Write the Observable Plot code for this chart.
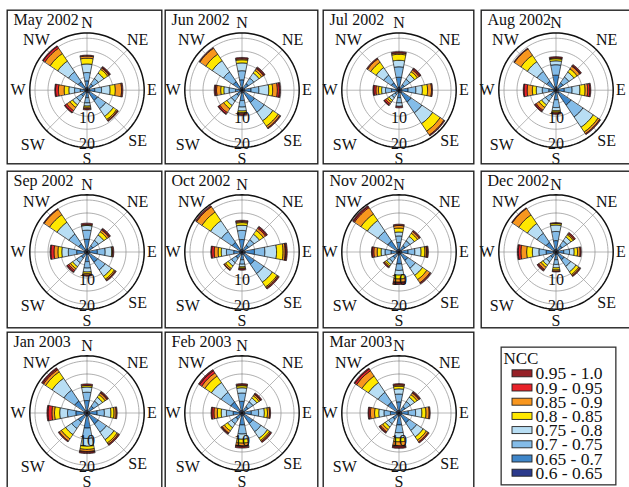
<!DOCTYPE html>
<html><head><meta charset="utf-8">
<script src="https://cdn.jsdelivr.net/npm/d3@7"></script>
<script src="https://cdn.jsdelivr.net/npm/@observablehq/plot@0.6"></script>
<style>
html,body{margin:0;padding:0;background:#fff;}
body{width:629px;height:487px;overflow:hidden;position:relative;font-family:"Liberation Serif",serif;}
.panel{position:absolute;}
.panel svg{display:block;overflow:visible;max-width:none !important;}
</style></head><body>
<script>
// ---------- data ----------
const months = ["May 2002","Jun 2002","Jul 2002","Aug 2002","Sep 2002","Oct 2002","Nov 2002","Dec 2002","Jan 2003","Feb 2003","Mar 2003"];
const directions = ["N","NE","E","SE","S","SW","W","NW"];
const directionAngles = [0,45,90,135,180,225,270,315];
const classes = ["0.6 - 0.65","0.65 - 0.7","0.7 - 0.75","0.75 - 0.8","0.8 - 0.85","0.85 - 0.9","0.9 - 0.95","0.95 - 1.0"];
const classColors = ["#2b3a8c","#3f86c9","#84bce8","#b8def4","#ffe800","#f8961e","#e8222a","#962128"];
const legendOrder = ["0.95 - 1.0","0.9 - 0.95","0.85 - 0.9","0.8 - 0.85","0.75 - 0.8","0.7 - 0.75","0.65 - 0.7","0.6 - 0.65"];
const legendTitle = "NCC";
const ringValues = [5,10,15,20];
const outerRadius = 22;
const radialLabels = ["10","20"];
const radialLabelValues = [10,20];

// frequency (%) per direction (N..NW), per NCC class (inner 0.6-0.65 -> outer 0.95-1.0)
const may2002 = [[1.0,2.6,3.2,3.3,2.2,0.8,0,0.4],[0.8,2.0,2.5,2.5,1.8,0.6,0.3,0.4],[1.0,2.0,2.6,3.3,2.0,2.4,0,0.5],[1.3,3.5,3.8,3.5,1.5,0.5,0,0.4],[0.9,2.0,2.0,1.2,0.5,0.5,0,0.5],[0.9,1.8,2.2,1.8,1.2,1.5,0.8,0.3],[0.8,1.8,2.2,2.2,1.8,2.2,1.1,0.3],[1.0,3.0,4.5,5.0,3.5,2.5,0.8,0.3]];
const jun2002 = [[1.0,3.0,3.5,3.0,1.2,0.4,0,0.5],[0.8,2.2,2.5,2.4,1.2,0.8,0.4,0.4],[1.0,2.5,3.0,3.8,1.5,1.8,0.8,0.4],[1.2,4.5,4.5,4.0,2.5,0.8,0,0.4],[1.0,3.0,2.5,1.5,0.6,0.5,0,0.6],[0.8,1.7,2.5,2.0,1.5,1.8,0.6,0.3],[0.8,1.7,2.5,2.0,1.2,1.6,0.5,0.4],[1.0,3.0,4.5,5.2,3.0,2.8,0,0.3]];
const jul2002 = [[1.2,3.8,4.0,2.5,2.3,0.5,0,0.5],[0.8,1.7,2.5,2.2,1.3,0.8,0.5,0.4],[1.0,2.5,3.0,2.5,2.0,1.5,0,0.4],[1.3,4.2,5.0,5.0,3.5,1.8,0,0.4],[0.9,2.0,2.0,1.3,0,0,0,0.6],[0.7,1.2,1.5,1.2,0.8,0.8,0.6,0.3],[0.9,2.0,2.3,1.5,1.2,1.0,0.8,0.3],[1.0,2.5,3.5,3.5,2.5,1.5,0,0.4]];
const aug2002 = [[1.3,4.5,4.0,1.5,0.8,0.3,0,0.5],[0.8,2.5,2.7,2.3,1.5,1.2,0.3,0.5],[1.0,2.2,3.0,3.0,2.0,1.0,0.8,0.4],[1.4,5.5,5.5,4.8,2.2,0.8,0,0.4],[1.0,2.7,3.0,1.2,0.5,0.4,0,0.5],[0.9,1.8,2.2,1.8,1.2,1.3,0.5,0.3],[0.8,2.0,2.5,2.3,1.5,2.0,1.2,0.3],[1.0,3.2,4.5,4.5,3.0,3.0,0,0.3]];
const sep2002 = [[1.1,3.8,3.5,1.8,0.3,0,0,0.6],[0.8,2.0,2.5,2.5,1.5,0.8,0.4,0.4],[1.0,3.0,3.0,2.5,0.3,0,0,0.5],[1.0,3.8,3.5,3.0,1.3,0.5,0,0.4],[0.9,2.8,2.5,1.5,0.6,0.6,0,0.4],[0.9,1.8,2.2,1.8,1.0,0.8,0.6,0.4],[1.0,3.0,3.2,2.5,1.5,1.5,1.2,0.3],[1.0,2.8,4.5,5.5,3.5,2.5,0,0.3]];
const oct2002 = [[1.0,3.8,3.5,2.0,1.0,0.4,0,0.5],[0.9,2.2,2.5,2.5,1.8,1.0,0.5,0.4],[1.2,3.6,4.0,4.5,2.5,0.8,0.3,0.5],[1.2,4.5,4.3,4.0,2.2,0.5,0,0.5],[0.9,2.1,1.7,1.0,0.5,0.3,0,0.5],[0.9,2.0,2.0,1.5,1.2,0.6,0,0.3],[0.9,2.3,2.8,2.0,1.2,1.5,1.0,0.3],[1.0,3.5,5.0,5.0,4.0,2.5,0,0.5]];
const nov2002 = [[1.0,2.7,2.5,1.5,1.5,1.0,0,0.5],[0.9,2.0,2.2,2.0,1.5,0.8,0,0.5],[1.0,2.5,2.6,2.4,1.5,0.6,0.3,0.4],[1.0,3.0,3.5,3.3,2.0,1.5,0,0.5],[1.1,3.5,2.5,1.8,1.5,1.2,0.3,0.6],[0.9,1.9,1.7,1.2,0.7,0.5,0,0.4],[0.9,2.2,2.3,1.5,1.5,1.3,0.6,0.3],[1.1,4.0,4.5,5.0,3.0,3.0,0.5,0.4]];
const dec2002 = [[1.0,3.4,3.5,2.5,0.6,0,0,0.3],[0.9,2.0,2.2,1.8,1.0,0.5,0,0.6],[0.9,2.1,2.2,1.8,1.3,1.0,0,0.4],[1.0,2.7,3.0,2.5,1.3,0.5,0,0.4],[0.9,2.1,1.8,1.3,0.8,0.5,0,0.3],[0.8,1.7,2.0,1.5,1.0,1.0,0.4,0.4],[1.0,2.8,2.8,2.5,2.2,2.2,1.0,0.3],[1.0,3.5,4.2,4.5,4.0,3.0,0,0.3]];
const jan2003 = [[1.0,3.8,3.2,2.0,0.6,0,0,0.6],[0.9,2.2,2.3,1.8,1.2,0.8,0.3,0.4],[1.0,2.9,2.8,2.5,1.2,0.8,0,0.4],[1.1,4.0,3.8,3.5,1.5,0.6,0,0.5],[1.2,4.6,4.0,3.0,1.2,0.8,0.3,0.5],[1.1,3.0,3.0,2.8,2.0,1.0,0,0.4],[1.1,3.2,3.2,3.0,2.0,1.0,1.5,0.4],[1.2,4.4,5.0,5.5,3.0,1.0,0.5,0.4]];
const feb2003 = [[1.0,3.5,3.2,2.0,0.8,0.3,0,0.5],[0.9,2.0,2.2,1.8,1.0,0.6,0.3,0.4],[1.0,2.6,2.8,2.2,1.2,0.8,0,0.4],[1.1,3.8,3.8,3.0,1.0,0.5,0,0.5],[1.1,3.5,3.5,2.0,1.5,1.0,0.3,0.6],[0.9,2.0,2.0,1.8,1.5,1.0,0.3,0.3],[0.9,2.5,2.6,2.0,1.5,1.3,0.8,0.3],[1.1,4.0,4.5,4.5,3.0,1.5,1.0,0.5]];
const mar2003 = [[1.0,3.3,3.0,2.0,1.0,0.5,0,0.5],[0.9,2.0,2.3,2.0,1.2,0.8,0.3,0.4],[1.0,2.6,2.8,2.4,1.6,1.2,0,0.4],[1.1,3.5,3.5,3.0,1.5,0.8,0,0.5],[1.1,3.5,3.0,2.0,1.5,1.5,0.5,0.5],[0.9,2.0,2.0,1.5,1.2,1.0,0.4,0.3],[0.9,2.4,2.5,2.0,1.6,1.6,0.6,0.3],[1.1,4.0,4.5,4.5,3.0,2.5,0.8,0.4]];
const monthData = [may2002,jun2002,jul2002,aug2002,sep2002,oct2002,nov2002,dec2002,jan2003,feb2003,mar2003];

// ---------- layout (page pixels) ----------
const colLeft = [5.5,163.5,321.5,479.5], colWidth = [156,154,152,156];
const rowTop = [9,169.5,330.5], rowHeight = [155,158,165];
const colCenter = [86,241,398,555], rowCenter = [89.7,251,412];
const pxPerUnit = 2.6;
const wedgeHalfAngle = 11;
const labelRadius = {N:26,NE:27.5,E:25,SE:27.5,S:26.5,SW:29.5,W:26.5,NW:27.5};
const FONT = "Liberation Serif";

const rad = a => a*Math.PI/180;
function pt(r, a){ return [r*Math.sin(rad(a)), r*Math.cos(rad(a))]; }
function wedge(a, r0, r1){
  const n = 10, pts = [];
  for(let i=0;i<=n;i++) pts.push(pt(r1, a - wedgeHalfAngle + 2*wedgeHalfAngle*i/n));
  if (r0 > 0) for(let i=n;i>=0;i--) pts.push(pt(r0, a - wedgeHalfAngle + 2*wedgeHalfAngle*i/n));
  else pts.push([0,0]);
  pts.push(pts[0]);
  return {type:"Polygon", coordinates:[pts]};
}
function circle(r){
  return {type:"LineString", coordinates: d3.range(0,361,3).map(a => pt(r,a))};
}
function place(node, left, top, width, height){
  const div = document.createElement("div");
  div.className = "panel";
  div.style.left = left+"px"; div.style.top = top+"px";
  div.style.width = width+"px"; div.style.height = height+"px";
  node.style.maxWidth = "none";
  div.appendChild(node);
  document.body.appendChild(div);
}

months.forEach((title, idx) => {
  const row = Math.floor(idx/4), col = idx%4;
  const left = colLeft[col], top = rowTop[row], width = colWidth[col], height = rowHeight[row];
  const cx = colCenter[col]-left, cy = rowCenter[row]-top;
  const vals = monthData[idx];
  const segs = [];
  vals.forEach((arr, di) => {
    let acc = 0;
    arr.forEach((v, ci) => {
      if (v > 0) segs.push({type:"Feature", properties:{cls: classes[ci]}, geometry: wedge(directionAngles[di], acc, acc+v)});
      acc += v;
    });
  });
  const rings = ringValues.map(r => ({type:"Feature", properties:{}, geometry: circle(r)}));
  const spokes = directionAngles.map(a => ({type:"Feature", properties:{}, geometry:{type:"LineString", coordinates:[[0,0], pt(outerRadius,a)]}}));
  const dirLabels = directions.map((d,i) => ({label:d, p: pt(labelRadius[d], directionAngles[i])}));
  const rlabels = radialLabels.map((t,i) => ({t, r: radialLabelValues[i]}));
  const chart = Plot.plot({
    width, height, margin:0,
    style: {overflow:"visible", background:"transparent", maxWidth:"none"},
    projection: d3.geoIdentity().reflectY(true).scale(pxPerUnit).translate([cx, cy]),
    color: {type:"ordinal", domain: classes, range: classColors},
    marks: [
      Plot.frame({stroke:"#222", strokeWidth:1.4, inset:0.7}),
      Plot.geo(rings, {stroke:"#9a9a9a", strokeWidth:0.8, fill:"none"}),
      Plot.geo(spokes, {stroke:"#9a9a9a", strokeWidth:0.7}),
      Plot.geo([{type:"Feature", properties:{}, geometry: circle(outerRadius)}], {stroke:"#111", strokeWidth:1.5, fill:"none"}),
      Plot.geo(segs, {fill: d => d.properties.cls, stroke:"#111", strokeWidth:0.7}),
      Plot.text(dirLabels, {x: d => d.p[0], y: d => d.p[1], text: d => d.label, fontSize:16, fontFamily:FONT, fill:"#111"}),
      Plot.text(rlabels, {x: 0, y: d => -(d.r+0.8), text: d => d.t, fontSize:16, fontFamily:FONT, fill:"#111"}),
      Plot.text([title], {frameAnchor:"top-left", dx:7, dy:4.5, lineAnchor:"top", textAnchor:"start", text: d => d, fontSize:16, fontFamily:FONT, fill:"#111"})
    ]
  });
  place(chart, left, top, width, height);
});

// ---------- legend ----------
const LW = 116, LH = 139, rowStep = 14.2;
const legend = Plot.plot({
  width: LW, height: LH, margin: 0,
  style: {overflow:"visible", background:"transparent", maxWidth:"none"},
  x: {domain:[0,LW], range:[0,LW], axis:null},
  y: {domain:[0,LH], range:[0,LH], axis:null},
  color: {type:"ordinal", domain: classes, range: classColors},
  marks: [
    Plot.frame({stroke:"#333", strokeWidth:1.3, inset:0.65}),
    Plot.text([legendTitle], {x: 3, y: 12, text: d => d, textAnchor:"start", fontSize:17, fontFamily:FONT, fill:"#111"}),
    Plot.rect(legendOrder, {x1: 12, x2: 32, y1: (d,i) => 23.8 + i*rowStep, y2: (d,i) => 30.8 + i*rowStep, fill: d => d, stroke:"#222", strokeWidth:0.9}),
    Plot.text(legendOrder, {x: 35, y: (d,i) => 27.3 + i*rowStep, text: d => d, textAnchor:"start", fontSize:17.5, fontFamily:FONT, fill:"#111"})
  ]
});
place(legend, 500, 346, LW, LH);
</script>
</body></html>
